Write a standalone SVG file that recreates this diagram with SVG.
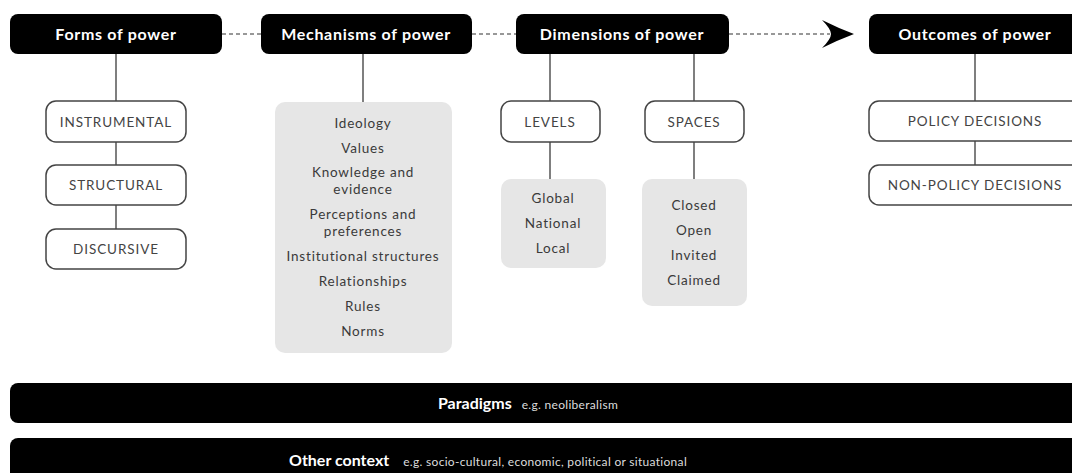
<svg xmlns="http://www.w3.org/2000/svg" width="1072" height="473" viewBox="0 0 1072 473">
<style>
.hdr{fill:#000}
.ht{fill:#fff;font-family:Lato,"Open Sans",sans-serif;font-weight:700;font-size:16px;letter-spacing:0.7px;text-anchor:middle}
.box{fill:#fff;stroke:#444;stroke-width:1.5}
.gbox{fill:#e6e6e6}
.bt{fill:#444;font-family:Lato,"Open Sans",sans-serif;font-size:13.5px;letter-spacing:0.9px;text-anchor:middle}
.gt{fill:#3a3a3a;font-family:Lato,"Open Sans",sans-serif;font-size:13.5px;letter-spacing:0.8px;text-anchor:middle}
.ln{stroke:#555;stroke-width:1.5;fill:none}
.dash{stroke:#777;stroke-width:1.3;stroke-dasharray:4 3;fill:none}
.bar{fill:#000}
.bb{fill:#fff;font-family:Lato,"Open Sans",sans-serif;font-weight:700;font-size:16px}
.bs{fill:#ddd;font-family:Lato,"Open Sans",sans-serif;font-size:12px;letter-spacing:0.3px}
</style>
<rect width="1072" height="473" fill="#fff"/>
<g id="connectors">
<line class="dash" x1="222" y1="34" x2="261" y2="34"/>
<line class="dash" x1="472" y1="34" x2="516" y2="34"/>
<line class="dash" x1="729" y1="34" x2="830" y2="34"/>
<path d="M854,34 Q838,28 822,20 Q831,29 831,34 Q831,39 822,48 Q838,40 854,34 Z" fill="#000"/>
<line class="ln" x1="116" y1="54" x2="116" y2="101"/>
<line class="ln" x1="116" y1="142" x2="116" y2="165"/>
<line class="ln" x1="116" y1="205" x2="116" y2="229"/>
<line class="ln" x1="363" y1="54" x2="363" y2="102"/>
<line class="ln" x1="550" y1="54" x2="550" y2="101"/>
<line class="ln" x1="550" y1="142" x2="550" y2="179"/>
<line class="ln" x1="694" y1="54" x2="694" y2="101"/>
<line class="ln" x1="694" y1="142" x2="694" y2="179"/>
<line class="ln" x1="975" y1="54" x2="975" y2="101"/>
<line class="ln" x1="975" y1="141" x2="975" y2="165"/>
</g>
<g id="forms">
<rect class="hdr" x="10" y="14" width="212" height="40" rx="8"/>
<text class="ht" x="116" y="40">Forms of power</text>
</g>
<g id="instrumental">
<rect class="box" x="46" y="101" width="140" height="41" rx="10"/>
<text class="bt" x="116" y="126.5">INSTRUMENTAL</text>
</g>
<g id="structural">
<rect class="box" x="46" y="165" width="140" height="40" rx="10"/>
<text class="bt" x="116" y="190">STRUCTURAL</text>
</g>
<g id="discursive">
<rect class="box" x="46" y="229" width="140" height="40" rx="10"/>
<text class="bt" x="116" y="254">DISCURSIVE</text>
</g>
<g id="mechanisms">
<rect class="hdr" x="261" y="14" width="211" height="40" rx="8"/>
<text class="ht" x="366" y="40">Mechanisms of power</text>
</g>
<g id="mechanisms-list">
<rect class="gbox" x="275" y="102" width="177" height="251" rx="10"/>
<text class="gt" x="363" y="128">Ideology</text>
<text class="gt" x="363" y="153">Values</text>
<text class="gt" x="363" y="177">Knowledge and</text>
<text class="gt" x="363" y="194">evidence</text>
<text class="gt" x="363" y="219">Perceptions and</text>
<text class="gt" x="363" y="236">preferences</text>
<text class="gt" x="363" y="261">Institutional structures</text>
<text class="gt" x="363" y="286">Relationships</text>
<text class="gt" x="363" y="311">Rules</text>
<text class="gt" x="363" y="336">Norms</text>
</g>
<g id="dimensions">
<rect class="hdr" x="516" y="14" width="213" height="40" rx="8"/>
<text class="ht" x="622" y="40">Dimensions of power</text>
</g>
<g id="levels">
<rect class="box" x="501" y="101" width="99" height="41" rx="10"/>
<text class="bt" x="550" y="126.5">LEVELS</text>
</g>
<g id="levels-list">
<rect class="gbox" x="501" y="179" width="105" height="89" rx="10"/>
<text class="gt" x="553" y="203">Global</text>
<text class="gt" x="553" y="228">National</text>
<text class="gt" x="553" y="253">Local</text>
</g>
<g id="spaces">
<rect class="box" x="645" y="101" width="99" height="41" rx="10"/>
<text class="bt" x="694" y="126.5">SPACES</text>
</g>
<g id="spaces-list">
<rect class="gbox" x="642" y="179" width="105" height="127" rx="10"/>
<text class="gt" x="694" y="210">Closed</text>
<text class="gt" x="694" y="235">Open</text>
<text class="gt" x="694" y="260">Invited</text>
<text class="gt" x="694" y="285">Claimed</text>
</g>
<g id="outcomes">
<rect class="hdr" x="869" y="14" width="220" height="40" rx="8"/>
<text class="ht" x="975" y="40">Outcomes of power</text>
</g>
<g id="policy">
<rect class="box" x="869" y="101" width="220" height="40" rx="10"/>
<text class="bt" x="975" y="126">POLICY DECISIONS</text>
</g>
<g id="nonpolicy">
<rect class="box" x="869" y="165" width="220" height="40" rx="10"/>
<text class="bt" x="975" y="190">NON-POLICY DECISIONS</text>
</g>
<g id="paradigms">
<rect class="bar" x="10" y="383" width="1080" height="40" rx="8"/>
<text x="528" y="409" text-anchor="middle"><tspan class="bb">Paradigms</tspan><tspan class="bs" dx="10">e.g. neoliberalism</tspan></text>
</g>
<g id="context">
<rect class="bar" x="10" y="438" width="1080" height="45" rx="8"/>
<text x="488" y="466" text-anchor="middle"><tspan class="bb">Other context</tspan><tspan class="bs" dx="14">e.g. socio-cultural, economic, political or situational</tspan></text>
</g>
</svg>
